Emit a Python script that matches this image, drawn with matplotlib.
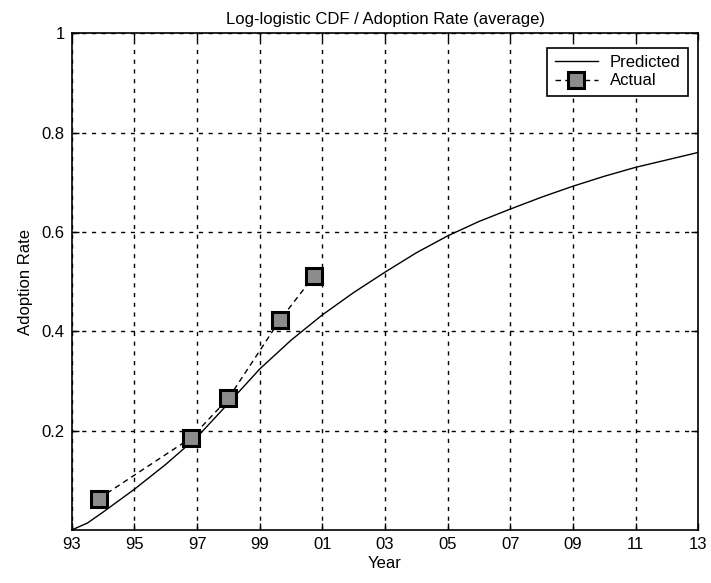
import matplotlib.pyplot as plt

# predicted log-logistic CDF, sampled per year
pred_years = [1993.0, 1993.5, 1994, 1995, 1996, 1997, 1998, 1999, 2000, 2001, 2002,
              2003, 2004, 2005, 2006, 2007, 2008, 2009, 2010, 2011, 2012, 2013]
pred_rate = [0.0, 0.014, 0.036, 0.082, 0.132, 0.187, 0.255, 0.324, 0.382, 0.433, 0.478,
             0.519, 0.558, 0.592, 0.621, 0.646, 0.670, 0.692, 0.712, 0.730, 0.745, 0.760]

# observed average adoption rate
actual_years = [1993.86, 1996.82, 1998.0, 1999.65, 2000.73]
actual_rate = [0.063, 0.186, 0.265, 0.423, 0.511]

xtick_years = list(range(1993, 2014, 2))
xtick_labels = ["%02d" % (y % 100) for y in xtick_years]
ytick_vals = [0.2, 0.4, 0.6, 0.8, 1.0]
ytick_labels = ["0.2", "0.4", "0.6", "0.8", "1"]

plt.rcParams["font.family"] = ["Liberation Sans", "DejaVu Sans"]
plt.rcParams["font.size"] = 12

fig = plt.figure(figsize=(7.11, 5.83), dpi=100)
ax = fig.add_axes([0.101, 0.091, 0.881, 0.852])

ax.plot(pred_years, pred_rate, color="black", linewidth=1.0, label="Predicted")
ax.plot(actual_years, actual_rate, color="black", linestyle="--", linewidth=1.0,
        dashes=(4, 3),
        marker="s", markersize=12, markerfacecolor="#8c8c8c",
        markeredgecolor="black", markeredgewidth=2.2, label="Actual")

ax.set_xlim(1993, 2013)
ax.set_ylim(0, 1)
ax.set_xticks(xtick_years)
ax.set_xticklabels(xtick_labels)
ax.set_yticks(ytick_vals)
ax.set_yticklabels(ytick_labels)
ax.tick_params(direction="in", length=5, top=True, right=True, width=1.0, pad=5)
ax.grid(True, color="black", linestyle=(0, (3, 4)), linewidth=1.0)
for sp in ax.spines.values():
    sp.set_linewidth(1.2)

ax.set_xlabel("Year", labelpad=3)
ax.set_ylabel("Adoption Rate", labelpad=6)
ax.set_title("Log-logistic CDF / Adoption Rate (average)", fontsize=12, pad=7)

leg = ax.legend(loc="upper right", fancybox=False, framealpha=1.0,
                edgecolor="black", borderpad=0.45, handlelength=2.6,
                handletextpad=0.7, labelspacing=0.2,
                bbox_to_anchor=(0.997, 0.988))
leg.get_frame().set_linewidth(1.2)

fig.savefig("out.png", dpi=100)
